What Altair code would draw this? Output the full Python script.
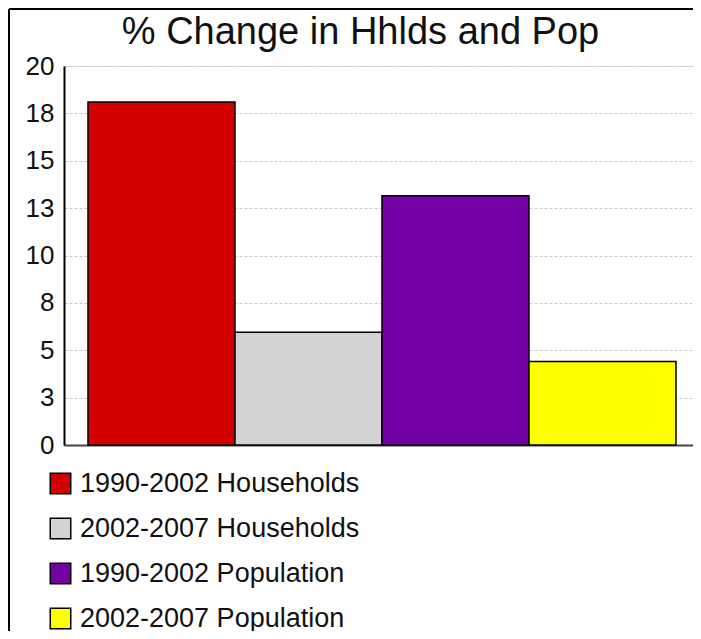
import altair as alt
import pandas as pd

categories = ["1990-2002 Households", "2002-2007 Households", "1990-2002 Population", "2002-2007 Population"]
values = [18.1, 5.95, 13.15, 4.4]
colors = ["#D40000", "#D3D3D3", "#7300A2", "#FFFF00"]
tick_values = [0, 2.5, 5, 7.5, 10, 12.5, 15, 17.5, 20]

df = pd.DataFrame({"cat": categories, "val": values})
FONT = "Liberation Sans"

bars = alt.Chart(df).mark_bar(stroke="black", strokeWidth=1.5).encode(
    x=alt.X("cat:N", sort=categories,
            scale=alt.Scale(paddingInner=0, paddingOuter=0.1395, align=0.585),
            axis=alt.Axis(title=None, labels=False, ticks=False, domainColor="#444444",
                          domainWidth=2, grid=False)),
    y=alt.Y("val:Q", scale=alt.Scale(domain=[0, 20], nice=False),
            axis=alt.Axis(title=None, values=tick_values, labelExpr="round(datum.value)",
                          ticks=False, labelPadding=10, labelFontSize=26, labelColor="#111111",
                          labelFont=FONT, domainColor="black", domainWidth=2,
                          grid=True, gridColor="#c8c8c8", gridDash=[3, 2], gridWidth=1)),
    color=alt.Color("cat:N", sort=categories,
                    scale=alt.Scale(domain=categories, range=colors),
                    legend=alt.Legend(title=None, orient="none", legendX=-17, legendY=404,
                                      symbolType="square", symbolSize=420,
                                      symbolStrokeColor="black", symbolStrokeWidth=1.5,
                                      labelFontSize=27, labelFont=FONT, labelColor="#111111",
                                      labelOffset=6, rowPadding=17, labelLimit=500,
                                      padding=0)),
)

top_line = alt.Chart(df).mark_rule(stroke="black", strokeWidth=2).encode(
    x=alt.value(-55), x2=alt.value(760), y=alt.value(-57)
)
left_line = alt.Chart(df).mark_rule(stroke="black", strokeWidth=2).encode(
    x=alt.value(-55), y=alt.value(-57), y2=alt.value(760)
)

chart = alt.layer(bars, top_line, left_line).properties(
    width=629, height=379,
    title=alt.TitleParams("% Change in Hhlds and Pop", fontSize=38, font=FONT,
                          fontWeight="normal", color="#111111", dx=-18, offset=-44,
                          frame="group"),
    autosize=alt.AutoSizeParams(type="none"),
    padding={"left": 56, "top": 58, "right": 0, "bottom": 186},
).configure_view(stroke=None).configure(background="white")

chart.save("out.html", embed_options={"renderer": "svg", "actions": False})
